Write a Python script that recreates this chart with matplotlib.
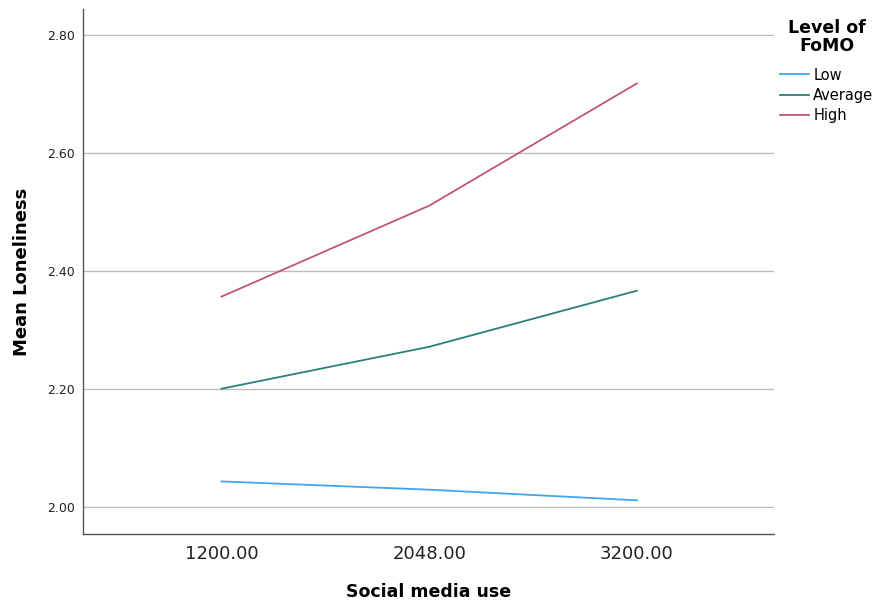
import matplotlib
matplotlib.use("Agg")
import matplotlib.pyplot as plt

x_labels = ["1200.00", "2048.00", "3200.00"]
low = [2.044, 2.030, 2.012]
average = [2.201, 2.272, 2.367]
high = [2.357, 2.511, 2.718]
series_names = ["Low", "Average", "High"]
colors = ["#3ea6ee", "#2b7f7a", "#c25479"]

fig = plt.figure(figsize=(8.74, 6.02), dpi=100)
ax = fig.add_axes([0.0955, 0.113, 0.790, 0.872])

x = list(range(len(x_labels)))
for vals, name, c in zip([low, average, high], series_names, colors):
    ax.plot(x, vals, color=c, lw=1.3, label=name)

ax.set_xlim(-0.665, 2.66)
ax.set_ylim(1.955, 2.844)
ax.set_xticks(x)
ax.set_xticklabels(x_labels, fontsize=13, color="#222222")
ax.set_yticks([2.0, 2.2, 2.4, 2.6, 2.8])
ax.set_yticklabels(["2.00", "2.20", "2.40", "2.60", "2.80"], fontsize=9, color="#222222")
ax.grid(axis="y", color="#bdbdbd", lw=1.0)
ax.set_axisbelow(True)
for s in ["top", "right"]:
    ax.spines[s].set_visible(False)
for s in ["left", "bottom"]:
    ax.spines[s].set_color("#555555")
    ax.spines[s].set_linewidth(1.0)
ax.tick_params(axis="both", length=0, pad=6)
ax.tick_params(axis="x", pad=8)

ax.set_xlabel("Social media use", fontsize=12.5, fontweight="bold", labelpad=14)
ax.set_ylabel("Mean Loneliness", fontsize=13, fontweight="bold", labelpad=12)

leg = ax.legend(title="Level of\nFoMO", loc="upper left", bbox_to_anchor=(1.0, 0.992),
                frameon=False, fontsize=10.5, handlelength=2.0, handletextpad=0.3,
                labelspacing=0.35, borderaxespad=0.0, borderpad=0.4,
                title_fontproperties={"weight": "bold", "size": 12.5})
leg._legend_box.align = "center"
leg._legend_box.sep = 9
leg.get_title().set_multialignment("center")
leg.get_title().set_linespacing(1.0)

fig.savefig("out.png", dpi=100)
